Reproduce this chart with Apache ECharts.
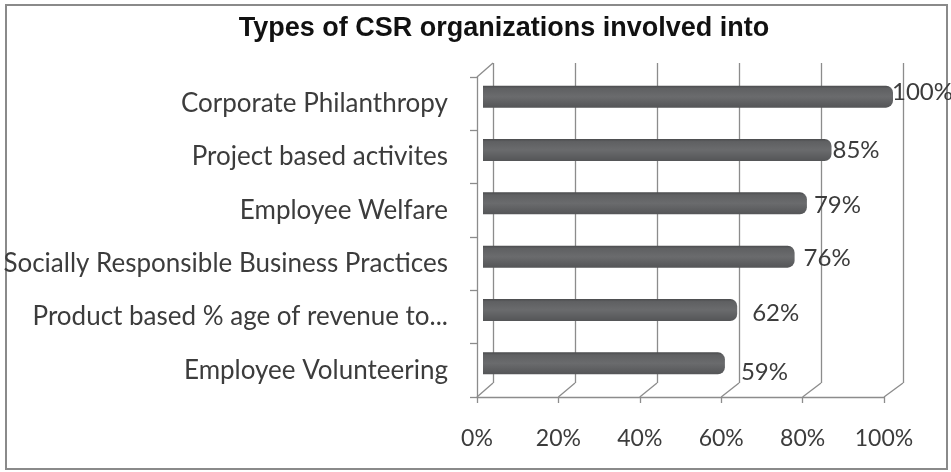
<!DOCTYPE html>
<html><head><meta charset="utf-8">
<script src="https://cdn.jsdelivr.net/npm/echarts@6/dist/echarts.min.js"></script>
<style>html,body{margin:0;padding:0;background:#fff}#c{width:951px;height:472px}</style>
</head><body><div id="c"></div>
<script>
const title = 'Types of CSR organizations involved into';
const categories = ['Corporate Philanthropy','Project based activites','Employee Welfare','Socially Responsible Business Practices','Product based % age of revenue to...','Employee Volunteering'];
const values = [100, 85, 79, 76, 62, 59];
const tickValues = [0, 20, 40, 60, 80, 100];
// per-bar label nudges (px), mimicking the 3D label placement of the original
const labelOffsets = [[-1,-4],[1,0],[7,2],[9,2],[15,3],[16,9]];

// layout (3D-ish planes)
const FRONT = {left: 477, top: 77, width: 407, height: 320};
const BARS  = {left: 483, top: 70, width: 410, height: 320};
const BACK  = {left: 493, top: 63, width: 410, height: 320};
const gridCol = '#8c8c8c';
const txt = '#3c3c3c';
const font = 'Lato';

const chart = echarts.init(document.getElementById('c'));

function g(o){return {left:o.left, top:o.top, width:o.width, height:o.height, containLabel:false};}

const graphics = [];
graphics.push({type:'rect', shape:{x:6,y:5,width:941,height:464}, style:{fill:'none', stroke:'#8a8a8a', lineWidth:2}, silent:true, z:-1});
const fb = FRONT.top + FRONT.height, bb = BACK.top + BACK.height;
tickValues.forEach(v => {
  const fx = FRONT.left + FRONT.width * v / 100;
  const bx = BACK.left + BACK.width * v / 100;
  graphics.push({type:'line', shape:{x1:fx,y1:fb,x2:bx,y2:bb}, style:{stroke:gridCol, lineWidth:1.3}, silent:true});
});
graphics.push({type:'line', shape:{x1:FRONT.left,y1:FRONT.top,x2:BACK.left,y2:BACK.top}, style:{stroke:gridCol, lineWidth:1.3}, silent:true});

const barData = values.map((v, i) => ({value: v, label: {offset: labelOffsets[i]}}));

chart.setOption({
  animation:false,
  title:{text:title, left:499, top:10, textAlign:'center', textStyle:{fontFamily:'Liberation Sans', fontWeight:'bold', fontSize:27, color:'#111'}},
  grid:[g(BACK), g(BARS), g(FRONT)],
  xAxis:[
    {gridIndex:0, type:'value', min:0, max:100, interval:20, axisLine:{show:false}, axisTick:{show:false}, axisLabel:{show:false}, splitLine:{show:true, lineStyle:{color:gridCol, width:1.3}}},
    {gridIndex:1, type:'value', min:0, max:100, show:false},
    {gridIndex:2, type:'value', min:0, max:100, interval:20, splitLine:{show:false},
      axisLine:{show:true, lineStyle:{color:gridCol, width:1.3}},
      axisTick:{show:true, length:6, lineStyle:{color:gridCol, width:1.3}},
      axisLabel:{formatter:'{value}%', color:txt, fontFamily:font, fontSize:23, margin:30}}
  ],
  yAxis:[
    {gridIndex:0, type:'category', data:categories, inverse:true, show:false},
    {gridIndex:1, type:'category', data:categories, inverse:true, show:false},
    {gridIndex:2, type:'category', data:categories, inverse:true,
      axisLine:{show:true, lineStyle:{color:gridCol, width:1.3}},
      axisTick:{show:true, length:7, lineStyle:{color:gridCol, width:1.3}},
      splitLine:{show:false},
      axisLabel:{color:txt, fontFamily:font, fontSize:26, margin:29}}
  ],
  series:[{
    type:'bar', xAxisIndex:1, yAxisIndex:1, data:barData, barWidth:22,
    itemStyle:{borderRadius:[0,7,7,0], color:new echarts.graphic.LinearGradient(0,0,0,1,[
      {offset:0,color:'#4a4b4d'},{offset:0.12,color:'#5f6062'},{offset:0.5,color:'#6a6b6d'},{offset:1,color:'#545557'}])},
    label:{show:true, position:'right', distance:0, formatter:'{c}%', color:txt, fontFamily:font, fontSize:24}
  }],
  graphic:graphics
});
</script></body></html>
